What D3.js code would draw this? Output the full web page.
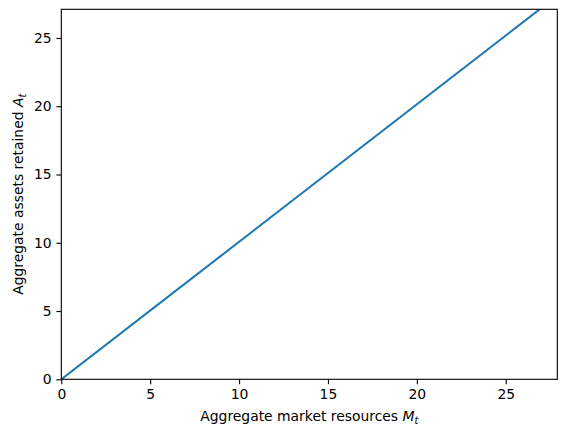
<!DOCTYPE html>
<html><head><meta charset="utf-8">
<script src="https://cdn.jsdelivr.net/npm/d3@7"></script>
<style>body{margin:0;background:#fff}svg{display:block}text{font-family:"DejaVu Sans",sans-serif}</style>
</head><body>
<svg id="c" width="566" height="436"></svg>
<script>
const mValues = [0, 27.9];
const aValues = [0, 28.1];
const xTicks = [0, 5, 10, 15, 20, 25];
const yTicks = [0, 5, 10, 15, 20, 25];
const xDomain = [0, 27.9];
const yDomain = [0, 27.1];

const L = 61.3, R = 557.3, T = 9.3, B = 379.3;
const svg = d3.select("#c");
const x = d3.scaleLinear().domain(xDomain).range([L, R]);
const y = d3.scaleLinear().domain(yDomain).range([B, T]);

svg.append("clipPath").attr("id","clip").append("rect")
  .attr("x", L).attr("y", T).attr("width", R-L).attr("height", B-T);

const pts = mValues.map((m,i)=>[m, aValues[i]]);
svg.append("path").attr("clip-path","url(#clip)")
  .attr("d", d3.line().x(d=>x(d[0])).y(d=>y(d[1]))(pts))
  .attr("fill","none").attr("stroke","#1f77b4").attr("stroke-width",2.08);

const fs = 13.9;
const xAxis = svg.append("g").attr("transform",`translate(0,${B})`)
  .call(d3.axisBottom(x).tickValues(xTicks).tickFormat(d3.format("d")).tickSize(4.86).tickPadding(4.86));
const yAxis = svg.append("g").attr("transform",`translate(${L},0)`)
  .call(d3.axisLeft(y).tickValues(yTicks).tickFormat(d3.format("d")).tickSize(4.86).tickPadding(4.86));
[xAxis, yAxis].forEach(g=>{
  g.select(".domain").remove();
  g.selectAll(".tick line").attr("stroke","#000").attr("stroke-width",1.11);
  g.selectAll(".tick text").attr("font-size",fs).attr("fill","#000").attr("font-family","DejaVu Sans");
});

svg.append("rect").attr("x",L).attr("y",T).attr("width",R-L).attr("height",B-T)
  .attr("fill","none").attr("stroke","#000").attr("stroke-width",1.11);

const xl = svg.append("text").attr("x",(L+R)/2).attr("y",421).attr("text-anchor","middle").attr("font-size",fs);
xl.append("tspan").text("Aggregate market resources ");
xl.append("tspan").attr("font-style","italic").text("M");
xl.append("tspan").attr("font-style","italic").attr("font-size",fs*0.7).attr("dy",3).text("t");

const yl = svg.append("text").attr("transform",`translate(23,${(T+B)/2}) rotate(-90)`).attr("text-anchor","middle").attr("font-size",fs);
yl.append("tspan").text("Aggregate assets retained ");
yl.append("tspan").attr("font-style","italic").text("A");
yl.append("tspan").attr("font-style","italic").attr("font-size",fs*0.7).attr("dy",3).text("t");
</script>
</body></html>
